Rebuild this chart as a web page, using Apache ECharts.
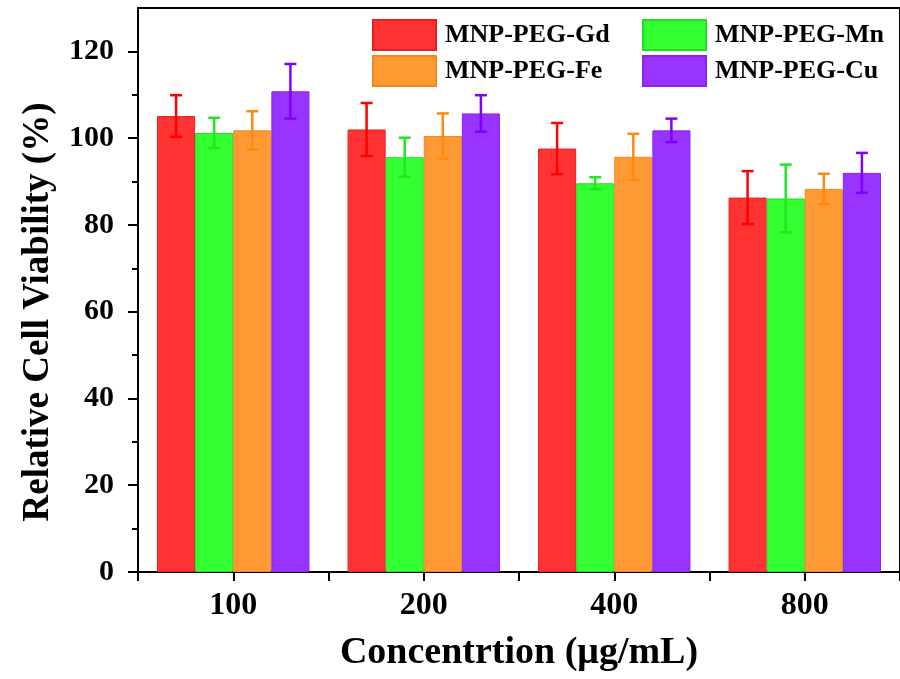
<!DOCTYPE html>
<html>
<head>
<meta charset="utf-8">
<script src="https://cdn.jsdelivr.net/npm/echarts@6/dist/echarts.min.js"></script>
<style>
  html, body { margin: 0; padding: 0; background: #fff; }
  #chart { width: 900px; height: 679px; }
</style>
</head>
<body>
<div id="chart"></div>
<script>
// data
var concentrations = ["100", "200", "400", "800"];
var seriesNames = ["MNP-PEG-Gd", "MNP-PEG-Mn", "MNP-PEG-Fe", "MNP-PEG-Cu"];
var gdMean = [105.1, 102.0, 97.6, 86.3];
var gdErr = [4.8, 6.1, 5.9, 6.1];
var mnMean = [101.2, 95.6, 89.6, 86.1];
var mnErr = [3.5, 4.5, 1.4, 7.8];
var feMean = [101.8, 100.5, 95.7, 88.3];
var feErr = [4.4, 5.2, 5.3, 3.5];
var cuMean = [110.8, 105.7, 101.8, 92.0];
var cuErr = [6.3, 4.2, 2.7, 4.6];
var yTicks = [0, 20, 40, 60, 80, 100, 120];
var yMinorTicks = [10, 30, 50, 70, 90, 110];

var barColors = ["#ff3333", "#33ff33", "#ff9933", "#9933ff"];
var edgeColors = ["#e62020", "#22dd22", "#f08a20", "#8a22f0"];
var errColors = ["#ff0000", "#22e622", "#ff8a10", "#8000ff"];

var means = [gdMean, mnMean, feMean, cuMean];
var errs = [gdErr, mnErr, feErr, cuErr];

var font = '"Liberation Serif", "Times New Roman", serif';

var chart = echarts.init(document.getElementById("chart"));

var series = [];
for (var s = 0; s < 4; s++) {
    series.push({
        name: seriesNames[s],
        type: "bar",
        data: means[s],
        barWidth: "20%",
        barGap: "0%",
        itemStyle: { color: barColors[s], borderColor: edgeColors[s], borderWidth: 1 },
        z: 2
    });
}
for (var s = 0; s < 4; s++) {
    (function(idx) {
        var errData = means[idx].map(function(m, i) { return [i, m, errs[idx][i]]; });
        series.push({
            type: "custom",
            data: errData,
            z: 5,
            silent: true,
            renderItem: function(params, api) {
                var cat = api.value(0);
                var m = api.value(1);
                var e = api.value(2);
                var band = api.size([1, 0])[0];
                var bw = band * 0.2;
                var dx = (idx - 1.5) * bw;
                var top = api.coord([cat, m + e]);
                var bot = api.coord([cat, m - e]);
                var x = top[0] + dx;
                var cap = 6;
                var st = { stroke: errColors[idx], lineWidth: 2.5 };
                return {
                    type: "group",
                    children: [
                        { type: "line", shape: { x1: x, y1: top[1], x2: x, y2: bot[1] }, style: st },
                        { type: "line", shape: { x1: x - cap, y1: top[1], x2: x + cap, y2: top[1] }, style: st },
                        { type: "line", shape: { x1: x - cap, y1: bot[1], x2: x + cap, y2: bot[1] }, style: st }
                    ]
                };
            }
        });
    })(s);
}

var legendText = { fontFamily: font, fontWeight: "bold", fontSize: 26, color: "#000", padding: [0, 0, 0, 4] };

chart.setOption({
    backgroundColor: "#fff",
    animation: false,
    grid: { left: 138, top: 8, right: -2, bottom: 107, show: true, borderColor: "#000", borderWidth: 2 },
    legend: [
        { data: [seriesNames[0], seriesNames[2]], orient: "vertical", left: 367, top: 14,
          itemWidth: 63, itemHeight: 30, itemGap: 4, icon: "rect", textStyle: legendText },
        { data: [seriesNames[1], seriesNames[3]], orient: "vertical", left: 637, top: 14,
          itemWidth: 63, itemHeight: 30, itemGap: 4, icon: "rect", textStyle: legendText }
    ],
    xAxis: [
        {
            type: "category",
            data: concentrations,
            axisLine: { lineStyle: { color: "#000", width: 2 } },
            axisTick: { show: true, length: 9, lineStyle: { color: "#000", width: 2 } },
            axisLabel: { show: false },
            name: "Concentrtion (\u03bcg/mL)",
            nameLocation: "middle",
            nameGap: 62,
            nameTextStyle: { fontFamily: font, fontWeight: "bold", fontSize: 38, color: "#000" }
        },
        {
            type: "category",
            data: concentrations,
            position: "bottom",
            axisLine: { show: false },
            axisTick: { show: true, alignWithLabel: true, length: 9, lineStyle: { color: "#000", width: 2 } },
            axisLabel: { margin: 18, fontFamily: font, fontWeight: "bold", fontSize: 32, color: "#000" }
        }
    ],
    yAxis: [
        {
            type: "value",
            min: 0,
            max: 130,
            splitLine: { show: false },
            axisLine: { show: true, lineStyle: { color: "#000", width: 2 } },
            axisTick: { show: true, length: 10, customValues: yTicks, lineStyle: { color: "#000", width: 2 } },
            axisLabel: { margin: 24, customValues: yTicks, fontFamily: font, fontWeight: "bold", fontSize: 30, color: "#000" }
        },
        {
            type: "value",
            min: 0,
            max: 130,
            position: "left",
            splitLine: { show: false },
            axisLine: { show: false },
            axisTick: { show: true, length: 6, customValues: yMinorTicks, lineStyle: { color: "#000", width: 2 } },
            axisLabel: { show: false }
        }
    ],
    graphic: [
        {
            type: "text",
            x: 38,
            y: 312,
            rotation: Math.PI / 2,
            style: {
                text: "Relative Cell Viability (%)",
                fontFamily: font, fontWeight: "bold", fontSize: 37, fill: "#000",
                textAlign: "center", textVerticalAlign: "middle"
            }
        }
    ],
    series: series
});
</script>
</body>
</html>
